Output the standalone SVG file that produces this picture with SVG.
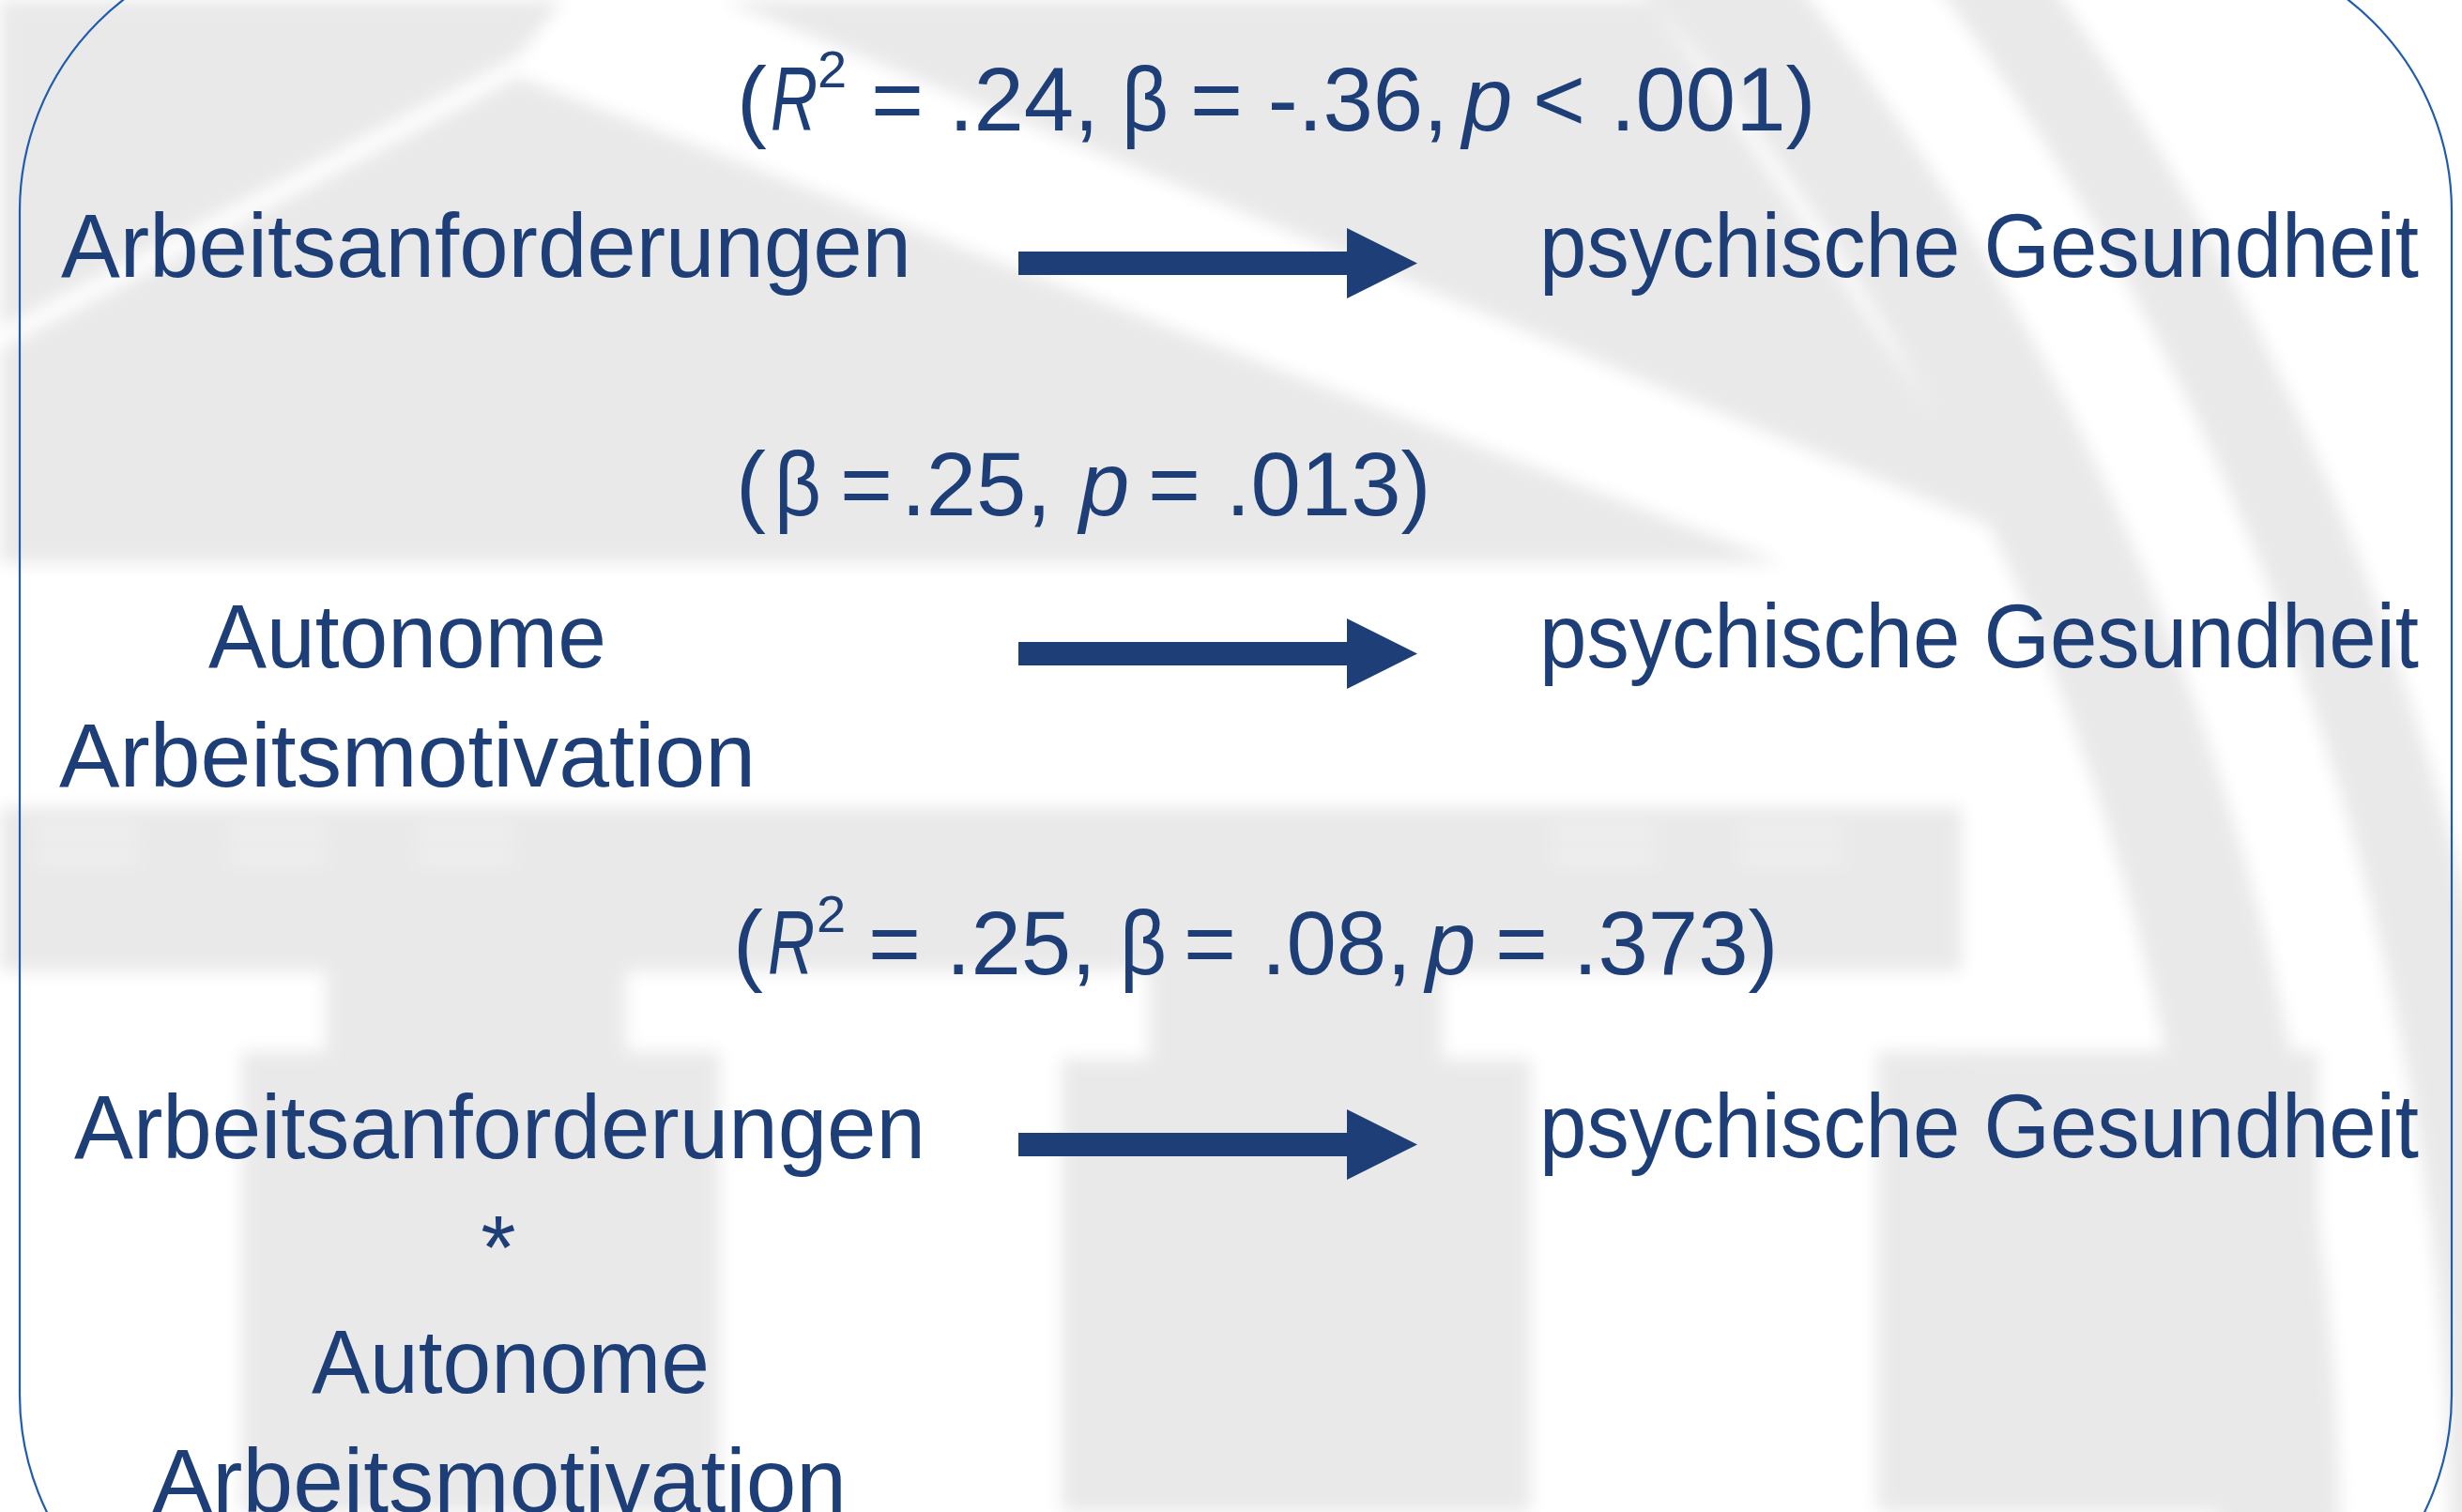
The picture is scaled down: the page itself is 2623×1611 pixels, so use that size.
<svg xmlns="http://www.w3.org/2000/svg" width="2623" height="1611" viewBox="0 0 2623 1611">
  <defs>
    <style>
      .lbl { font-family: "Liberation Sans", Arial, sans-serif; font-size: 96px; fill: #1d3e76; }
      .stat { font-family: "Liberation Sans", Arial, sans-serif; font-size: 96px; fill: #1d3e76; }
      .it { font-style: italic; }
      .sup { font-size: 56px; }
      .wm { fill: #e9e9e9; }
      .wm-arc { fill: none; stroke: #e9e9e9; }
      .glyph-mark { fill: #f7f7f7; }
      .shaft { stroke: #1d3e76; stroke-width: 25; fill: none; }
    </style>
    <filter id="soft" x="-5%" y="-5%" width="110%" height="110%">
      <feGaussianBlur stdDeviation="9"/>
    </filter>
    <marker id="head" markerUnits="userSpaceOnUse" markerWidth="76" markerHeight="76" viewBox="0 0 76 76" refX="1" refY="37.5" orient="auto">
      <path d="M0,0 L75,37.5 L0,75 Z" fill="#1d3e76"/>
    </marker>
  </defs>

  <rect x="0" y="0" width="2623" height="1611" fill="#ffffff"/>

  <!-- faint building watermark behind the diagram -->
  <g id="watermark" filter="url(#soft)">
    <!-- roof area above the left slope -->
    <polygon class="wm" points="0,0 600,0 552,60 0,350"/>
    <!-- pediment -->
    <polygon class="wm" points="0,372 552,82 1900,600 0,600"/>
    <!-- upper right roof band -->
    <polygon class="wm" points="770,0 1760,0 2150,573 1310,220"/>
    <!-- large arcs on the right -->
    <path class="wm-arc" stroke-width="130" d="M1795,-60 A2617,2617 0 0 1 2427,1700"/>
    <path class="wm-arc" stroke-width="100" d="M2093,-60 A2850,2850 0 0 1 2660,1700"/>
    <!-- frieze (light) and entablature (grey) -->
    <rect x="0" y="605" width="2090" height="255" fill="#ffffff"/>
    <rect class="wm" x="0" y="860" width="2090" height="175"/>
    <!-- triglyph marks on the entablature -->
    <g class="glyph-mark">
      <rect x="40" y="884" width="106" height="6"/><rect x="40" y="910" width="106" height="6"/>
      <rect x="246" y="884" width="100" height="6"/><rect x="246" y="910" width="100" height="6"/>
      <rect x="446" y="884" width="100" height="6"/><rect x="446" y="910" width="100" height="6"/>
      <rect x="1656" y="884" width="107" height="6"/><rect x="1656" y="910" width="107" height="6"/>
      <rect x="1856" y="884" width="107" height="6"/><rect x="1856" y="910" width="107" height="6"/>
    </g>
    <!-- columns -->
    <rect x="0" y="1035" width="2090" height="576" fill="#ffffff"/>
    <rect class="wm" x="347" y="1035" width="320" height="90"/>
    <rect class="wm" x="257" y="1120" width="510" height="491"/>
    <rect class="wm" x="1224" y="1035" width="313" height="95"/>
    <rect class="wm" x="1131" y="1128" width="500" height="483"/>
    <rect class="wm" x="2000" y="1120" width="470" height="491"/>
  </g>

  <!-- outer frame -->
  <rect id="frame" x="21" y="-60" width="2591" height="1831" rx="285" ry="285" fill="none" stroke="#1f5cae" stroke-width="2.2"/>

  <!-- predictor nodes -->
  <g id="node-arbeitsanforderungen">
    <text class="lbl" x="65" y="295" textLength="906" lengthAdjust="spacingAndGlyphs">Arbeitsanforderungen</text>
  </g>
  <g id="node-autonome-arbeitsmotivation">
    <text class="lbl" x="222" y="711" textLength="424" lengthAdjust="spacingAndGlyphs">Autonome</text>
    <text class="lbl" x="63" y="838" textLength="742" lengthAdjust="spacingAndGlyphs">Arbeitsmotivation</text>
  </g>
  <g id="node-interaktion">
    <text class="lbl" x="79" y="1234" textLength="907" lengthAdjust="spacingAndGlyphs">Arbeitsanforderungen</text>
    <text class="lbl" x="531" y="1362" text-anchor="middle">*</text>
    <text class="lbl" x="332" y="1484" textLength="424" lengthAdjust="spacingAndGlyphs">Autonome</text>
    <text class="lbl" x="162" y="1611" textLength="740" lengthAdjust="spacingAndGlyphs">Arbeitsmotivation</text>
  </g>

  <!-- outcome nodes -->
  <g id="node-gesundheit-1">
    <text class="lbl" x="1640" y="295" textLength="937" lengthAdjust="spacingAndGlyphs">psychische Gesundheit</text>
  </g>
  <g id="node-gesundheit-2">
    <text class="lbl" x="1640" y="711" textLength="937" lengthAdjust="spacingAndGlyphs">psychische Gesundheit</text>
  </g>
  <g id="node-gesundheit-3">
    <text class="lbl" x="1640" y="1233" textLength="937" lengthAdjust="spacingAndGlyphs">psychische Gesundheit</text>
  </g>

  <!-- regression paths -->
  <g id="connectors">
    <line class="shaft" x1="1085" y1="280.5" x2="1436" y2="280.5" marker-end="url(#head)"/>
    <line class="shaft" x1="1085" y1="696.5" x2="1436" y2="696.5" marker-end="url(#head)"/>
    <line class="shaft" x1="1085" y1="1219.5" x2="1436" y2="1219.5" marker-end="url(#head)"/>
  </g>

  <!-- path statistics -->
  <g id="path-labels">
    <text class="stat" y="139"><tspan x="785">(</tspan><tspan x="821" class="it" textLength="50" lengthAdjust="spacingAndGlyphs">R</tspan><tspan x="871" y="93" class="sup">2</tspan><tspan x="928" y="139">= .24, </tspan><tspan x="1195" textLength="50" lengthAdjust="spacingAndGlyphs">β</tspan><tspan x="1268">= -.36, </tspan><tspan x="1558" class="it">p </tspan><tspan x="1633">&lt; .001)</tspan></text>
    <text class="stat" y="549"><tspan x="784">(</tspan><tspan x="825" textLength="50" lengthAdjust="spacingAndGlyphs">β</tspan><tspan x="895">= </tspan><tspan x="960">.25, </tspan><tspan x="1150" class="it">p </tspan><tspan x="1223">= .013)</tspan></text>
    <text class="stat" y="1038"><tspan x="781">(</tspan><tspan x="818" class="it" textLength="50" lengthAdjust="spacingAndGlyphs">R</tspan><tspan x="870" y="993" class="sup">2</tspan><tspan x="925" y="1038">= .25, </tspan><tspan x="1193" textLength="50" lengthAdjust="spacingAndGlyphs">β</tspan><tspan x="1261">= .08, </tspan><tspan x="1519" class="it">p </tspan><tspan x="1593">= .373)</tspan></text>
  </g>
</svg>
